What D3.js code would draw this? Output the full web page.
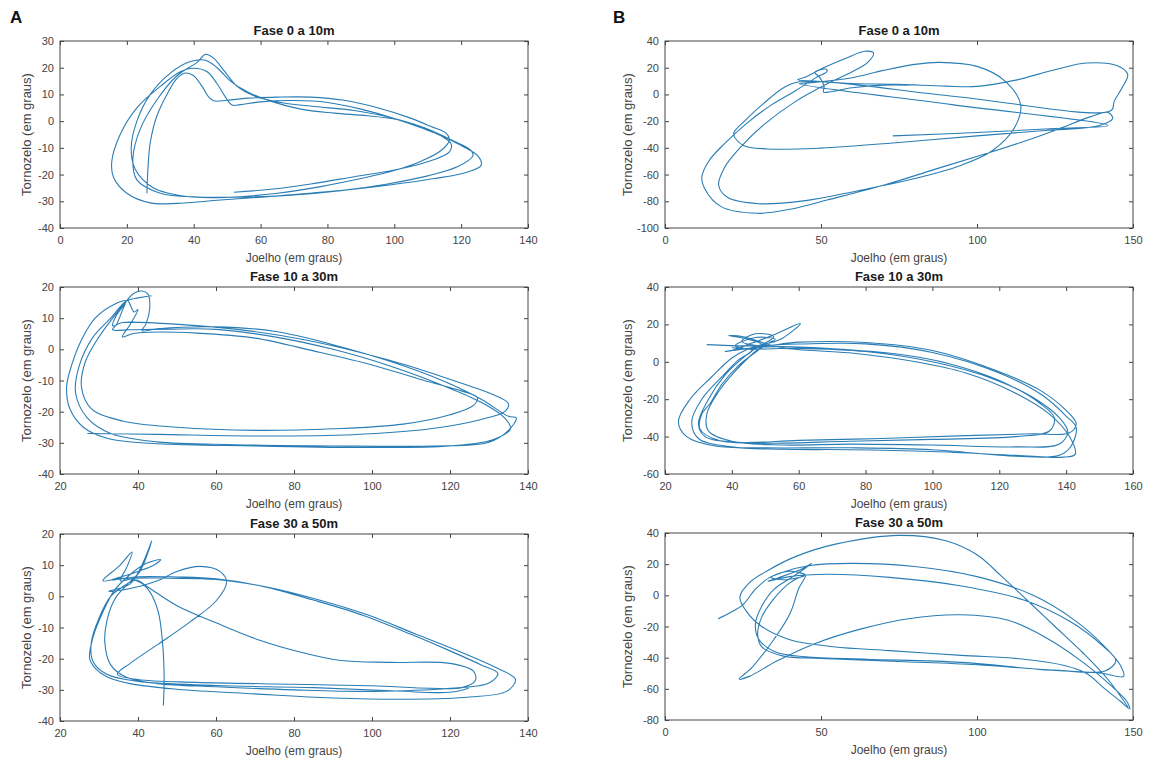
<!DOCTYPE html>
<html lang="pt">
<head>
    <meta charset="UTF-8">
    <title>Joelho x Tornozelo</title>
    <script src="https://d3js.org/d3.v7.min.js"></script>
    <style>
        body { margin: 0; background: #fff; font-family: "Liberation Sans", Arial, sans-serif; }
        .tick text { font-size: 11px; fill: #444; font-family: "Liberation Sans", Arial, sans-serif; }
        .tick line { stroke: #444; }
        .title { font-size: 13px; font-weight: bold; fill: #1a1a1a; }
        .axlabel { font-size: 12px; fill: #444; }
        .ylabel { font-size: 13px; fill: #444; }
        .letter { font-size: 17px; font-weight: bold; fill: #111; }
    </style>
</head>
<body>
<script>
    // trajectories: [joelho, tornozelo] in degrees
    const trajA1 = [
        [26,-27],[26.3,-18],[27,-8],[29,2],[32,10],[35,16],[37.5,18],[40,17],[42.5,13],[44.5,9],[46,7.6],[50,7.8],[56,8.6],[65,9],[75,9],[85,7.8],[95,5],[104,1.5],[111,-2],[115.5,-4.5],[116.5,-7],
        [114,-11],[108,-15],[100,-18.5],[90,-21.5],[78,-24.5],[65,-27],[50,-28.5],[38,-28.2],[28,-25],[22.5,-18],[21.3,-10],[23,0],[27,10],[33,18],[39,22.3],[43.5,22.8],[47,20],[51,15],[56,11],[63,7.5],[72,4.5],[82,3],[92,2],[101,0.5],[109,-2.5],[117,-7],[123,-11],[123.5,-13],
        [119,-17],[110,-20.5],[98,-23.5],[84,-26],[68,-27.8],[52,-28.5],[38,-28.2],[30,-27],[23,-22],[21.8,-14],[24,-3],[29,8],[35,17],[41,22],[43.5,25],[46,23.5],[49,19],[53,13],[58,9.5],[66,7],[76,5.5],[88,4],[100,1],[110,-3],[119,-8.5],[125,-13],[126,-16.5],
        [122,-19],[112,-21.5],[98,-24],[82,-26.2],[65,-28],[48,-29.5],[35,-30.8],[27,-30.6],[20,-27],[16,-21],[15.5,-15],[18,-5],[23,5],[30,13],[36,18.5],[40,19.8],[44,18.5],[47,14],[49.5,9],[51.5,6],[54,6.2],[60,7.2],[70,7.7],[80,7],[90,4.5],[100,1],[108,-2.5],[114,-5.5],[117,-8.5],[116.5,-11.5],
        [110,-15.2],[100,-18.3],[88,-20.8],[75,-23.5],[63,-25.5],[52,-26.6]
    ];
    const trajA2 = [
        [27,-27],[45,-27.3],[70,-27.8],[95,-27.4],[115,-25.5],[128,-22.5],[134,-20],[135,-17.5],[131,-14.5],[122,-10.5],[110,-5.5],[97,-1],[83,3],[68,6],[55,7.6],[45,8.4],[36,8.6],[33.5,7.5],[34.5,11],[37,15.5],
        [34,14.5],[29,10],[25.5,3],[23,-5],[21.7,-12],[22.5,-19],[26,-25],[32,-28.5],[45,-30.3],[70,-31],[100,-31.5],[120,-31],[131,-29],[135.5,-25.5],[134,-22],[128,-17],[118,-11.5],[105,-5.5],[90,0],[75,4],[60,6.4],[48,6.5],[38,6.3],[33.5,6.3],[34.5,8],[36.5,14],[37.3,15.8],[39,12],[40,12.8],[38,8],[36,4],[38.5,5],[43,5.5],
        [55,5.2],[70,3.6],[85,-0.5],[100,-5],[112,-9.5],[122,-13],[127,-15.5],[126,-18],[120,-21],[108,-24],[90,-25.5],[70,-26],[50,-25],[36,-23],[28,-19],[25.5,-12],[26.5,-4],[30,4],[33.5,10],[37,15.5],[39,18],[41,18.7],[42.5,17.8],[43,13],[42,8],[41,6],[45,6.6],[60,7.2],[75,5.8],[90,1.5],[105,-4],[118,-10],[128,-16],
        [135,-21.5],[137,-22],[135,-26],[130,-29.8],[115,-31],[90,-31],[65,-30.6],[45,-29.7],[33,-27],[27,-22],[24,-14],[25,-5],[28.5,4],[33,10],[37,15.5],[40,16.5],[43.5,17.2]
    ];
    const trajA3 = [
        [46.5,-35],[46.7,-26],[46.3,-15],[45.2,-5],[43,1.5],[40.5,4.5],[36,5.8],[31,5],[35,9.5],[38.5,14.2],[37,9],[35.5,5],[39,5.8],[48,5.8],[60,5.4],[73,3],[86,-1],[99,-6],[111,-12],[123,-18],[132,-23],[136.8,-26.7],[134.5,-30.5],[125,-32.3],[110,-33],[90,-32.6],[70,-31.3],[50,-29.8],[38,-28],[32,-25.8],
        [29,-23],[27.6,-20],[28.5,-13],[31,-5],[34,2],[38,7],[42,10.5],[45.8,11.8],[44,10],[40,8],[35,6],[33,5.2],[40,6.3],[50,6.2],[60,5.6],[72,3.2],[85,-1.2],[98,-6.2],[110,-12.2],[120,-17.5],[128,-22],[132.3,-24.7],[130,-27.8],[120,-29.5],[100,-30.5],[80,-30],[60,-29],[45,-28],[37,-26],[33,-22],[31.5,-15],[32,-8],[34,-1],[37,3.5],
        [40.5,8],[43.5,17.7],[41,10],[38,4],[32.5,1.6],[38,2.5],[45,5],[50,8],[56,9.6],[61,8],[62.7,4.6],[60,-1.5],[53,-8.5],[45,-15.5],[38,-21.5],[34.7,-25],[40,-26.7],[55,-27.6],[80,-28.2],[100,-28.7],[115,-29.5],[123,-29.3],[126.5,-27],[126,-24],[120,-21.5],[105,-21.2],[92,-20.6],[82,-18],[71,-14],[60,-8.5],
        [50,-3],[42.5,3],[39.5,5.2],[36,3],[33,0],[30,-7],[28,-15],[28.5,-21],[32,-25],[40,-27.3],[60,-28.6],[85,-29.3],[105,-30.3],[120,-30.8],[124.8,-29.5]
    ];
    const trajB1 = [
        [73,-31],[100,-28.5],[125,-25.5],[142,-23.2],[92,-7.6],[43,8],
        [48,9],[60,12.5],[70,18],[80,22.5],[88,24],[100,21],[109,10],[114,-8],[112,-25],[105,-42],[95,-53],[80,-63],[60,-73],[45,-79.5],[30,-81.8],[20,-77],[17.2,-68],[19,-55],[24,-40],[32,-22],[42,-5],[52,8],[60,17],[65,24],[66.8,31],[64,32.3],[58,27],[50,19],[45,13],[42.5,11],
        [48,10],[60,8.2],[75,7.5],[90,6.2],[100,6],[112,10.5],[125,18.5],[135,23.5],[145,21.5],[148.3,15],[146.5,5],[144,-5],[143,-12],[93,-1.5],[43,9.5],
        [38,5],[31,-8],[25.5,-20],[22,-29.5],[25,-38],[33,-40.8],[50,-40.2],[75,-36],[100,-31],[122,-27],[139,-23.5],[143.5,-18],[142,-13.5],[136,-17],[126,-26],[114,-36],[102,-45],[88,-55],[70,-68],[52,-79],[40,-86],[29.7,-89],[18,-84],[12.6,-70],[11.8,-62],[14,-50],[19,-37],[26,-22],[34,-8],[42,3],[48,12],[52,17.5],[51.5,19],[48,16.5],[49.5,13],[51,6],[50.8,1.8],[53,2],[60,5],[70,7],[78,7]
    ];
    const trajB2 = [
        [32.5,9.2],[45,8.5],[60,9.5],[80,9.6],[100,5],[120,-6],[133,-18],[140,-29],[143,-35],[141.5,-45],[138,-50],[125,-50.5],[100,-47],[75,-46],[50,-46],[35,-45],[26.5,-40],[24,-32],[27.5,-20],[34,-8],[40,2],[45,7],[50,10],[52.5,13.5],[47,15],[43,11],
        [48,8.5],[60,10.5],[80,10.3],[100,6],[118,-4],[132,-15],[140,-26],[143,-33],[141,-38],[130,-38.5],[110,-39.5],[85,-41],[60,-42],[42,-43],[32,-40],[30,-33],[33,-20],[38,-7],[44,3],[48,8],[55,12.5],[60.5,20.5],[52,14],[46,10],[40,6],[38,5.5],
        [50,8],[70,7],[90,4],[105,-1],[120,-10],[132,-22],[136.5,-30],[135,-37],[125,-40],[100,-41.5],[75,-42.5],[50,-43.5],[36,-42],[30.5,-36],[31,-28],[33.6,-22],[37,-12],[42,-2],[47,5],[51,10],[53,12],[47,13],[41,8.5],[44,7],
        [60,7.2],[80,5.5],[100,0],[118,-9],[130,-19],[138,-30],[140.5,-37.5],[138,-44],[125,-45.5],[100,-44.5],[75,-44],[55,-44.5],[40,-42.5],[33,-37],[32.5,-28],[36,-16],[41,-5],[46,4],[49,9],[45,12],[39,14],[43,13.5],
        [55,7.5],[75,4.8],[95,0],[110,-6],[124,-16],[135,-28],[141,-40],[142.7,-49.5],[139,-51],[125,-50],[100,-48],[75,-47],[55,-46.8],[40,-45.5],[30,-41],[28,-32],[31,-20],[37,-8],[42,1],[46,6],[40,7.5]
    ];
    const trajB3 = [
        [17,-15],[21,-11],[25,-6],[29,4],[34,12],[40,15.5],[45,13],[38,10],[34,11.5],[38,15],[46,19],[60,20.5],[80,18.5],[100,12],[118,0],[132,-17],[141,-33],[146,-45],[147,-52],[140,-50],[120,-47.5],[95,-43],[65,-41],[45,-39.5],[35,-36],[30,-28],[29,-18],[31,-7],[35,4],[41,12],[47,20.5],
        [44,17],[36,11],[33,9],[40,12],[52,13.5],[72,11.5],[95,6],[115,-3],[130,-17],[140,-32],[144.5,-42],[141,-48.5],[125,-48],[100,-44.5],[75,-42.5],[50,-40.5],[38,-39],[31,-33],[29.7,-25],[31,-14],[35,-2],[40,8],[45,12.5],
        [43,5],[40,-12],[35,-28],[28,-46],[23.8,-53.8],[27,-52],[36,-42],[48,-31],[62,-22],[78,-15],[94.8,-12.5],[110,-16],[122,-27],[134,-43],[143,-58],[148,-68],[149,-73],[146,-68],[141,-60],[135,-50],[128,-45],[115,-41],[95,-38.5],[72,-35.5],[54,-33],[40,-28.5],[31,-20],[26,-10],[24,-1],
        [27,8],[33,16],[42,25],[55,33],[75,38.5],[90,35],[100,26],[108,12],[116,-3],[125,-20],[134,-37],[142,-54],[148.5,-72]
    ];

    const panelTitles = ["Fase 0 a 10m", "Fase 10 a 30m", "Fase 30 a 50m"];
    const xLabel = "Joelho (em graus)";
    const yLabel = "Tornozelo (em graus)";

    const xTicksA1 = [0, 20, 40, 60, 80, 100, 120, 140];
    const xTicksA23 = [20, 40, 60, 80, 100, 120, 140];
    const yTicksA1 = [-40, -30, -20, -10, 0, 10, 20, 30];
    const yTicksA23 = [-40, -30, -20, -10, 0, 10, 20];
    const xTicksB13 = [0, 50, 100, 150];
    const xTicksB2 = [20, 40, 60, 80, 100, 120, 140, 160];
    const yTicksB1 = [-100, -80, -60, -40, -20, 0, 20, 40];
    const yTicksB2 = [-60, -40, -20, 0, 20, 40];
    const yTicksB3 = [-80, -60, -40, -20, 0, 20, 40];

    const panels = [
        { data: trajA1, title: panelTitles[0], xd: [0, 140], yd: [-40, 30], xt: xTicksA1, yt: yTicksA1, box: [60, 41, 528, 228], ylx: 31 },
        { data: trajA2, title: panelTitles[1], xd: [20, 140], yd: [-40, 20], xt: xTicksA23, yt: yTicksA23, box: [60, 287, 528, 474], ylx: 31 },
        { data: trajA3, title: panelTitles[2], xd: [20, 140], yd: [-40, 20], xt: xTicksA23, yt: yTicksA23, box: [60, 534, 528, 721], ylx: 31 },
        { data: trajB1, title: panelTitles[0], xd: [0, 150], yd: [-100, 40], xt: xTicksB13, yt: yTicksB1, box: [665, 41, 1133, 228], ylx: 632 },
        { data: trajB2, title: panelTitles[1], xd: [20, 160], yd: [-60, 40], xt: xTicksB2, yt: yTicksB2, box: [665, 287, 1133, 474], ylx: 632 },
        { data: trajB3, title: panelTitles[2], xd: [0, 150], yd: [-80, 40], xt: xTicksB13, yt: yTicksB3, box: [665, 533, 1133, 720], ylx: 632 }
    ];

    const svg = d3.select("body").append("svg")
        .attr("width", 1150)
        .attr("height", 763);

    svg.append("rect").attr("width", 1150).attr("height", 763).attr("fill", "#fff");

    const fmt = d => String(d);

    panels.forEach(p => {
        const [x0, y0, x1, y1] = p.box;
        const x = d3.scaleLinear().domain(p.xd).range([x0, x1]);
        const y = d3.scaleLinear().domain(p.yd).range([y1, y0]);
        const g = svg.append("g");

        // axes, ticks pointing inward like matlab
        g.append("g").attr("transform", `translate(0,${y1})`)
            .call(d3.axisBottom(x).tickValues(p.xt).tickFormat(fmt).tickSizeInner(-4).tickSizeOuter(0).tickPadding(8))
            .call(a => a.select(".domain").remove());
        g.append("g").attr("transform", `translate(0,${y0})`)
            .call(d3.axisTop(x).tickValues(p.xt).tickFormat("").tickSizeInner(-4).tickSizeOuter(0))
            .call(a => a.select(".domain").remove());
        g.append("g").attr("transform", `translate(${x0},0)`)
            .call(d3.axisLeft(y).tickValues(p.yt).tickFormat(fmt).tickSizeInner(-4).tickSizeOuter(0).tickPadding(6))
            .call(a => a.select(".domain").remove());
        g.append("g").attr("transform", `translate(${x1},0)`)
            .call(d3.axisRight(y).tickValues(p.yt).tickFormat("").tickSizeInner(-4).tickSizeOuter(0))
            .call(a => a.select(".domain").remove());

        g.append("rect")
            .attr("x", x0).attr("y", y0)
            .attr("width", x1 - x0).attr("height", y1 - y0)
            .attr("fill", "none").attr("stroke", "#444").attr("stroke-width", 1);

        const line = d3.line()
            .x(d => x(d[0]))
            .y(d => y(d[1]))
            .curve(d3.curveCatmullRom.alpha(0.5));

        g.append("path")
            .datum(p.data)
            .attr("d", line)
            .attr("fill", "none")
            .attr("stroke", "#2a7db5")
            .attr("stroke-width", 1.1)
            .attr("stroke-linejoin", "round");

        g.append("text").attr("class", "title")
            .attr("x", (x0 + x1) / 2).attr("y", y0 - 6)
            .attr("text-anchor", "middle")
            .text(p.title);

        g.append("text").attr("class", "axlabel")
            .attr("x", (x0 + x1) / 2).attr("y", y1 + 34)
            .attr("text-anchor", "middle")
            .text(xLabel);

        g.append("text").attr("class", "ylabel")
            .attr("transform", `translate(${p.ylx},${(y0 + y1) / 2}) rotate(-90)`)
            .attr("text-anchor", "middle")
            .text(yLabel);
    });

    svg.append("text").attr("class", "letter").attr("x", 10).attr("y", 23).text("A");
    svg.append("text").attr("class", "letter").attr("x", 613).attr("y", 23).text("B");
</script>
</body>
</html>
